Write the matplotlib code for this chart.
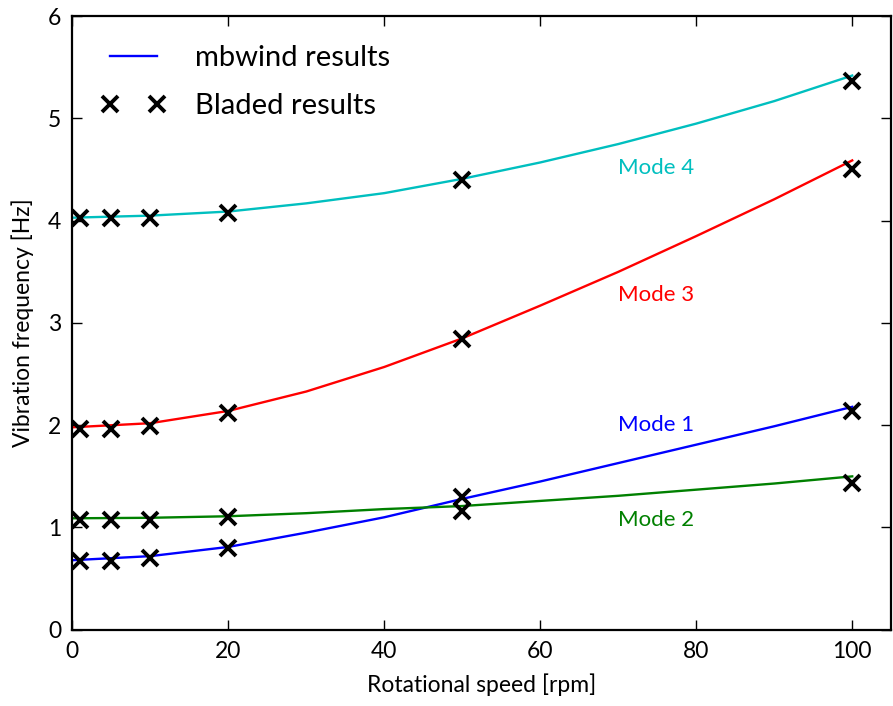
import matplotlib
matplotlib.use('Agg')
import matplotlib.pyplot as plt

plt.rcParams['font.family'] = ['Lato', 'DejaVu Sans']
plt.rcParams['font.size'] = 16.5

# mbwind results (lines)
speed = [0, 10, 20, 30, 40, 50, 60, 70, 80, 90, 100]
mode1 = [0.68, 0.72, 0.81, 0.95, 1.10, 1.28, 1.45, 1.63, 1.81, 1.99, 2.18]
mode2 = [1.09, 1.095, 1.11, 1.14, 1.18, 1.21, 1.26, 1.31, 1.37, 1.43, 1.50]
mode3 = [1.98, 2.02, 2.14, 2.33, 2.57, 2.85, 3.17, 3.50, 3.85, 4.21, 4.59]
mode4 = [4.03, 4.05, 4.09, 4.17, 4.27, 4.41, 4.57, 4.75, 4.95, 5.17, 5.42]

# Bladed results (markers)
bl_speed = [1, 5, 10, 20, 50, 100]
bl_mode1 = [0.67, 0.67, 0.70, 0.80, 1.30, 2.14]
bl_mode2 = [1.075, 1.075, 1.075, 1.10, 1.16, 1.44]
bl_mode3 = [1.965, 1.965, 1.99, 2.12, 2.84, 4.51]
bl_mode4 = [4.03, 4.03, 4.03, 4.08, 4.40, 5.37]

labels = ['Mode 1', 'Mode 2', 'Mode 3', 'Mode 4']
label_y = [2.0, 1.07, 3.27, 4.52]
colors = ['b', 'g', 'r', 'c']

fig = plt.figure(figsize=(8.93, 7.06), dpi=100)
ax = fig.add_axes([0.081, 0.108, 0.917, 0.869])

modes = [mode1, mode2, mode3, mode4]
bl_modes = [bl_mode1, bl_mode2, bl_mode3, bl_mode4]
for i in range(4):
    ax.plot(speed, modes[i], color=colors[i], lw=1.7,
            label='mbwind results' if i == 0 else None)
    ax.plot(bl_speed, bl_modes[i], 'kx', ms=11, mew=2.8,
            label='Bladed results' if i == 0 else None)
    ax.text(70, label_y[i], labels[i], color=colors[i], va='center',
            fontsize=16)

ax.set_xlim(0, 105)
ax.set_ylim(0, 6)
ax.set_xlabel('Rotational speed [rpm]', labelpad=8)
ax.set_ylabel('Vibration frequency [Hz]', labelpad=10)
ax.tick_params(direction='in', length=7, width=1, top=True, right=True, pad=8)
for s in ax.spines.values():
    s.set_linewidth(1.6)

ax.legend(loc='upper left', frameon=False, numpoints=2, fontsize=21,
          handlelength=2.2, handletextpad=1.0, borderaxespad=0.6,
          labelspacing=0.75)

fig.savefig('out.png', dpi=100)
